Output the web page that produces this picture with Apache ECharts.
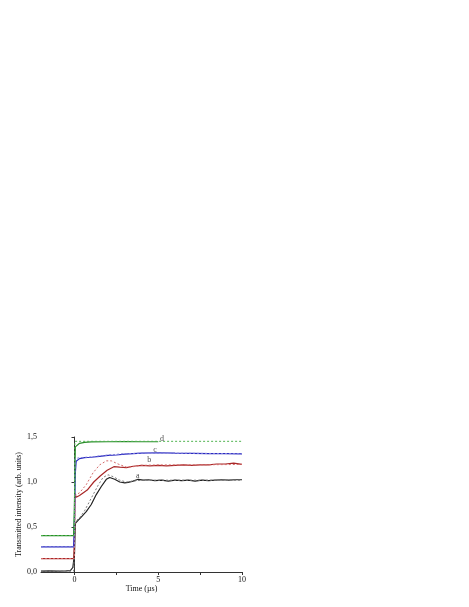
<!DOCTYPE html>
<html>
<head>
<meta charset="utf-8">
<script src="https://cdn.jsdelivr.net/npm/echarts@6/dist/echarts.min.js"></script>
<style>
    html, body { margin: 0; padding: 0; background: #fff; }
    #chart { width: 469px; height: 607px; }
</style>
</head>
<body>
<div id="chart"></div>
<script>
    // curve a (black) - measured and fit
    var tA = [-2, -1.5, -1, -0.5, -0.25, -0.1, 0, 0.05, 0.2, 0.4, 0.7, 1.0, 1.3, 1.6, 1.9, 2.1, 2.4, 2.7, 3.0, 3.2, 3.5, 3.8, 4.1, 4.4, 4.8, 5.2, 5.6, 6.0, 6.4, 6.8, 7.2, 7.6, 8.0, 8.4, 8.8, 9.2, 9.6, 10]
    var a  = [0.01, 0.012, 0.01, 0.012, 0.015, 0.05, 0.2, 0.54, 0.57, 0.61, 0.67, 0.75, 0.86, 0.95, 1.03, 1.05, 1.03, 1.0, 0.99, 0.995, 1.01, 1.03, 1.02, 1.025, 1.015, 1.02, 1.01, 1.02, 1.015, 1.02, 1.01, 1.02, 1.015, 1.02, 1.025, 1.02, 1.025, 1.025]
    var tFitA = [-2, -0.05, 0.03, 0.04, 0.3, 0.6, 1.0, 1.4, 1.7, 2.0, 2.3, 2.7, 3.1, 3.5, 4, 5, 6, 8, 10]
    var fitA  = [0.01, 0.01, 0, 0.56, 0.6, 0.68, 0.82, 0.96, 1.05, 1.08, 1.06, 1.02, 1.0, 1.01, 1.02, 1.02, 1.02, 1.02, 1.02]

    // curve b (red)
    var tB = [-2, -1, -0.05, 0, 0.03, 0.1, 0.3, 0.76, 1.15, 1.55, 1.95, 2.35, 2.7, 3.1, 3.5, 4.0, 4.5, 5.0, 5.5, 6.0, 6.5, 7.0, 7.5, 8.0, 8.5, 9.0, 9.5, 10]
    var b  = [0.148, 0.15, 0.148, 0.4, 0.87, 0.83, 0.85, 0.91, 1.0, 1.07, 1.13, 1.17, 1.165, 1.16, 1.175, 1.185, 1.18, 1.185, 1.18, 1.185, 1.19, 1.185, 1.19, 1.19, 1.2, 1.2, 1.21, 1.195]
    var tFitB = [-2, 0, 0.03, 0.3, 0.7, 1.1, 1.5, 1.9, 2.2, 2.6, 3.1, 3.5, 4, 5, 7, 10]
    var fitB  = [0.15, 0.15, 0.85, 0.88, 0.97, 1.1, 1.19, 1.235, 1.235, 1.2, 1.165, 1.17, 1.185, 1.19, 1.19, 1.195]

    // curve c (blue)
    var tC = [-2, -0.05, 0, 0.05, 0.1, 0.3, 0.6, 1.0, 1.5, 2, 2.5, 3, 3.5, 4, 5, 6, 7, 8, 9, 10]
    var c  = [0.28, 0.28, 0.6, 1.1, 1.23, 1.26, 1.27, 1.275, 1.285, 1.295, 1.3, 1.31, 1.315, 1.32, 1.325, 1.32, 1.318, 1.315, 1.315, 1.312]
    var tFitC = [-2, 0, 0.03, 0.3, 1, 2, 3, 4, 6, 10]
    var fitC  = [0.28, 0.28, 1.26, 1.27, 1.28, 1.3, 1.315, 1.32, 1.32, 1.315]

    // curve d (green)
    var tD = [-2, -0.05, 0, 0.05, 0.15, 0.3, 0.6, 1, 2, 3, 4, 5]
    var d  = [0.405, 0.405, 0.8, 1.39, 1.41, 1.43, 1.44, 1.445, 1.447, 1.448, 1.447, 1.447]
    var tFitD = [-2, 0, 0.02, 10]
    var fitD  = [0.405, 0.405, 1.452, 1.452]

    // curve labels
    var labelNames = ['a', 'b', 'c', 'd']
    var labelX = [3.78, 4.47, 4.81, 5.23]
    var labelY = [1.063, 1.24, 1.36, 1.48]

    var xLabels = [0, 5, 10]
    var xTicks = [0, 2.5, 5, 7.5, 10]

    function pairs(t, v) {
        return t.map(function (x, i) { return [x, v[i]] })
    }

    function solid(data, color) {
        return {
            type: 'line', data: data, symbol: 'none', z: 3,
            lineStyle: {color: color, width: 1.2}
        }
    }

    function dashed(data, color) {
        return {
            type: 'line', data: data, symbol: 'none', z: 4,
            lineStyle: {color: color, width: 1, type: [2, 2]}
        }
    }

    var font = 'Liberation Serif'
    var chart = echarts.init(document.getElementById('chart'))
    chart.setOption({
        animation: false,
        grid: {left: 41, right: 227, top: 437, bottom: 35},
        xAxis: {
            type: 'value', min: -2, max: 10,
            name: 'Time (µs)', nameLocation: 'middle', nameGap: 12,
            nameTextStyle: {fontFamily: font, fontSize: 8, color: '#111'},
            axisLine: {lineStyle: {color: '#333', width: 1}},
            axisTick: {customValues: xTicks, length: 3, lineStyle: {color: '#333'}},
            axisLabel: {customValues: xLabels, fontFamily: font, fontSize: 8, color: '#111', margin: 4},
            splitLine: {show: false}
        },
        yAxis: {
            type: 'value', min: 0, max: 1.5, interval: 0.5,
            name: 'Transmitted intensity (arb. units)', nameLocation: 'middle', nameGap: 17,
            nameTextStyle: {fontFamily: font, fontSize: 8, color: '#111'},
            axisLine: {show: true, lineStyle: {color: '#333', width: 1}},
            axisTick: {show: true, length: 3, lineStyle: {color: '#333'}},
            axisLabel: {
                fontFamily: font, fontSize: 8, color: '#111', margin: 4,
                formatter: function (v) { return v.toFixed(1).replace('.', ',') }
            },
            splitLine: {show: false}
        },
        series: [
            solid(pairs(tA, a), '#222222'),
            dashed(pairs(tFitA, fitA), '#7a7a7a'),
            solid(pairs(tB, b), '#a82828'),
            dashed(pairs(tFitB, fitB), '#d46a6a'),
            solid(pairs(tC, c), '#2a2ac0'),
            dashed(pairs(tFitC, fitC), '#8080dc'),
            solid(pairs(tD, d), '#2a8c2a'),
            dashed(pairs(tFitD, fitD), '#4fb34f'),
            {
                type: 'scatter', symbolSize: 0, z: 5,
                data: labelNames.map(function (n, i) { return {name: n, value: [labelX[i], labelY[i]]} }),
                label: {
                    show: true, position: 'inside', formatter: '{b}',
                    fontFamily: font, fontSize: 8, color: '#222'
                }
            }
        ]
    })
</script>
</body>
</html>
